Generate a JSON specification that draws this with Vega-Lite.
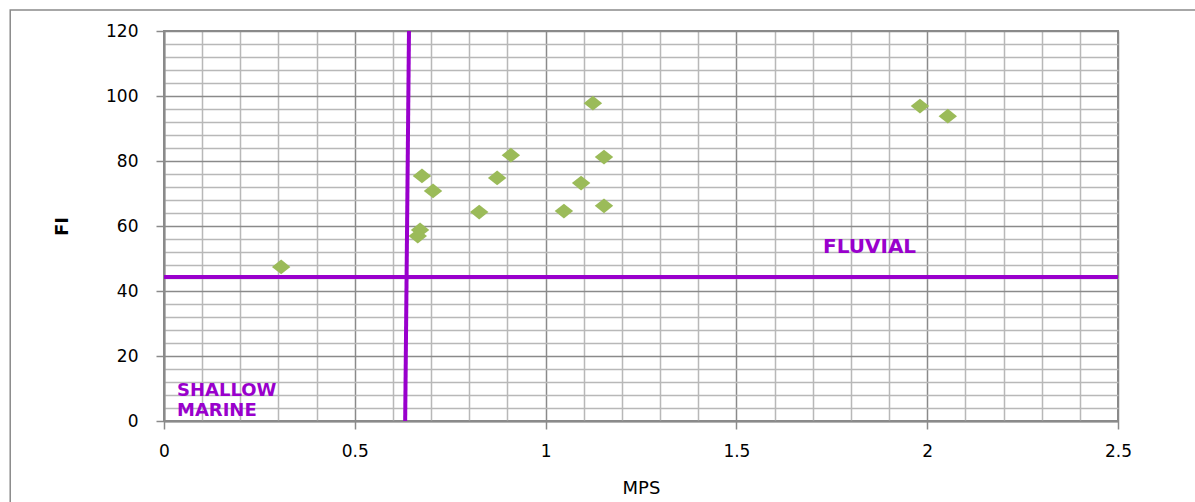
{
  "$schema": "https://vega.github.io/schema/vega-lite/v6.json",
  "width": 954,
  "height": 390,
  "autosize": "none",
  "padding": {"left": 164, "top": 31, "right": 77, "bottom": 81},
  "background": "white",
  "config": {
    "view": {"stroke": "#8a8a8a", "strokeWidth": 2},
    "font": "DejaVu Sans"
  },
  "datasets": {
    "points": [
      {"x": 0.307, "y": 47.4},
      {"x": 0.676, "y": 75.4},
      {"x": 0.705, "y": 70.8},
      {"x": 0.671, "y": 58.8},
      {"x": 0.665, "y": 56.9},
      {"x": 0.826, "y": 64.3},
      {"x": 0.873, "y": 74.8},
      {"x": 0.909, "y": 81.8},
      {"x": 1.048, "y": 64.6},
      {"x": 1.093, "y": 73.2},
      {"x": 1.153, "y": 81.2},
      {"x": 1.153, "y": 66.2},
      {"x": 1.124, "y": 97.8},
      {"x": 1.981, "y": 96.9},
      {"x": 2.054, "y": 93.8}
    ],
    "boundaries": [
      {"id": "v", "x": 0.632, "y": 0},
      {"id": "v", "x": 0.642, "y": 120},
      {"id": "h", "x": 0, "y": 44.3},
      {"id": "h", "x": 2.5, "y": 44.3}
    ],
    "frame": [
      {"x": -0.403, "x2": 2.75, "y": 126.5, "y2": -40}
    ]
  },
  "layer": [
    {
      "data": {"name": "frame"},
      "mark": {"type": "rect", "fill": null, "stroke": "#8a8a8a", "strokeWidth": 1.5, "clip": false},
      "encoding": {
        "x": {"field": "x", "type": "quantitative", "scale": {"domain": [0, 2.5], "nice": false}},
        "x2": {"field": "x2"},
        "y": {"field": "y", "type": "quantitative", "scale": {"domain": [0, 120], "nice": false}},
        "y2": {"field": "y2"}
      }
    },
    {
      "data": {"name": "points"},
      "mark": {"type": "point", "shape": "M-1,0L0,-0.8L1,0L0,0.8Z", "filled": true, "size": 340, "color": "#9bbb59", "opacity": 1},
      "encoding": {
        "x": {
          "field": "x", "type": "quantitative", "title": "MPS",
          "axis": {
            "values": [0, 0.1, 0.2, 0.3, 0.4, 0.5, 0.6, 0.7, 0.8, 0.9, 1, 1.1, 1.2, 1.3, 1.4, 1.5, 1.6, 1.7, 1.8, 1.9, 2, 2.1, 2.2, 2.3, 2.4, 2.5],
            "tickCount": 200,
            "labelOverlap": false,
            "labelExpr": "round(datum.value*10) % 5 === 0 ? '' + datum.value : ''",
            "grid": true,
            "gridColor": {"condition": {"test": "round(datum.value*10) % 5 === 0", "value": "#8a8a8a"}, "value": "#b8b8b8"},
            "gridWidth": 1.5,
            "tickColor": {"condition": {"test": "round(datum.value*10) % 5 === 0", "value": "#8a8a8a"}, "value": "transparent"},
            "tickSize": 8,
            "tickWidth": 1.5,
            "domainColor": "#8a8a8a",
            "domainWidth": 2,
            "labelFont": "DejaVu Sans",
            "labelFontSize": 17,
            "labelColor": "#000",
            "labelPadding": 14,
            "labelFlush": false,
            "titleFont": "DejaVu Sans",
            "titleFontSize": 18,
            "titleFontWeight": "normal",
            "titleColor": "#000",
            "titlePadding": 20
          }
        },
        "y": {
          "field": "y", "type": "quantitative", "title": "FI",
          "axis": {
            "values": [0, 4, 8, 12, 16, 20, 24, 28, 32, 36, 40, 44, 48, 52, 56, 60, 64, 68, 72, 76, 80, 84, 88, 92, 96, 100, 104, 108, 112, 116, 120],
            "tickCount": 200,
            "labelOverlap": false,
            "labelExpr": "datum.value % 20 === 0 ? '' + datum.value : ''",
            "grid": true,
            "gridColor": {"condition": {"test": "datum.value % 20 === 0", "value": "#8a8a8a"}, "value": "#b8b8b8"},
            "gridWidth": 1.5,
            "tickColor": {"condition": {"test": "datum.value % 20 === 0", "value": "#8a8a8a"}, "value": "transparent"},
            "tickSize": 8,
            "tickWidth": 1.5,
            "domainColor": "#8a8a8a",
            "domainWidth": 2,
            "labelFont": "DejaVu Sans",
            "labelFontSize": 17,
            "labelColor": "#000",
            "labelPadding": 18,
            "labelFlush": false,
            "titleFont": "DejaVu Sans",
            "titleFontSize": 18,
            "titleFontWeight": "bold",
            "titleColor": "#000",
            "titlePadding": 34
          }
        }
      }
    },
    {
      "data": {"name": "boundaries"},
      "mark": {"type": "line", "color": "#9900cc", "strokeWidth": 4},
      "encoding": {
        "x": {"field": "x", "type": "quantitative"},
        "y": {"field": "y", "type": "quantitative"},
        "detail": {"field": "id"}
      }
    },
    {
      "data": {"values": [{"x": 1.727, "y": 51.7, "label": "FLUVIAL"}]},
      "mark": {"type": "text", "align": "left", "baseline": "alphabetic", "font": "DejaVu Sans", "fontWeight": "bold", "fontSize": 20, "color": "#9900cc"},
      "encoding": {
        "x": {"field": "x", "type": "quantitative"},
        "y": {"field": "y", "type": "quantitative"},
        "text": {"field": "label"}
      }
    },
    {
      "data": {"values": [{"x": 0.034, "y": 7.7}]},
      "mark": {"type": "text", "text": ["SHALLOW", "MARINE"], "align": "left", "baseline": "alphabetic", "lineHeight": 20, "font": "DejaVu Sans", "fontWeight": "bold", "fontSize": 18, "color": "#9900cc"},
      "encoding": {
        "x": {"field": "x", "type": "quantitative"},
        "y": {"field": "y", "type": "quantitative"}
      }
    }
  ]
}
